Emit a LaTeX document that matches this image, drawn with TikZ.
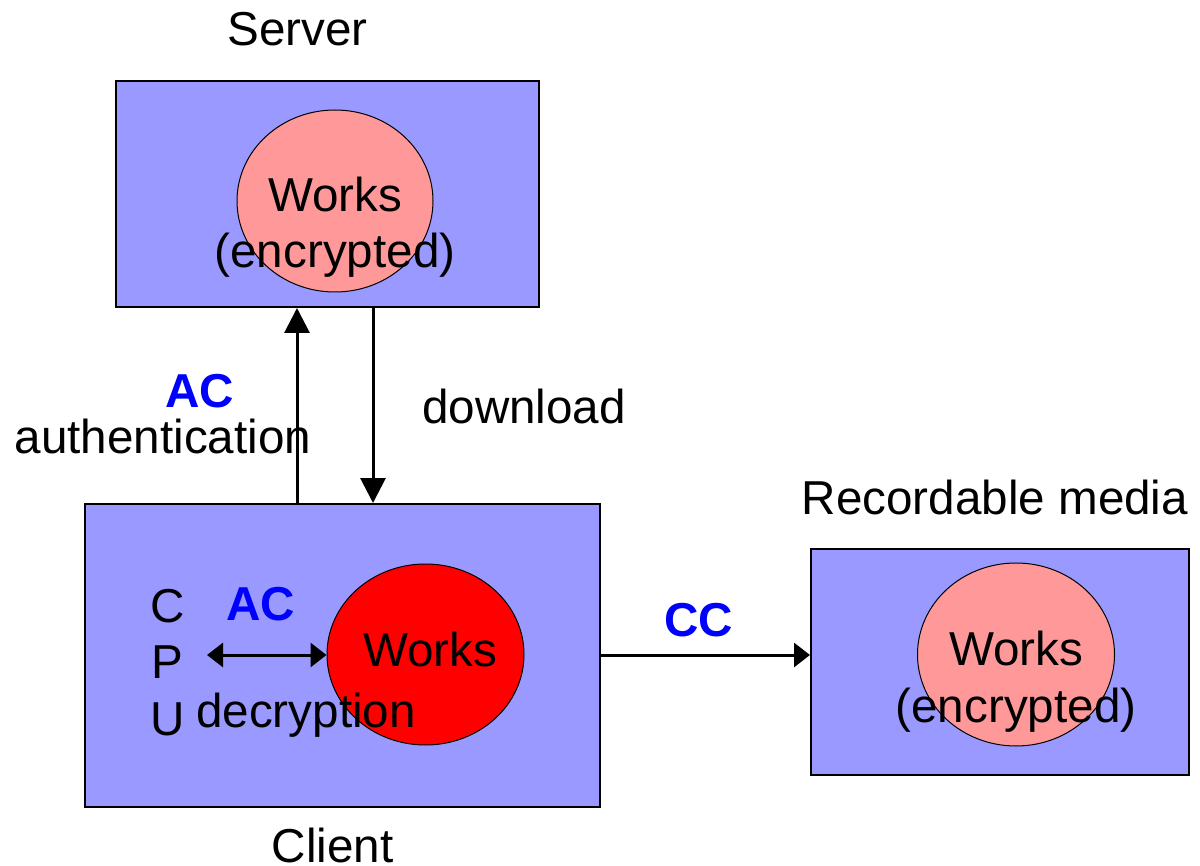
\documentclass[tikz,border=0pt]{standalone}
\usepackage{fontspec}
\setmainfont{Liberation Sans}
\usetikzlibrary{arrows.meta,shapes.geometric}
\definecolor{boxblue}{HTML}{9999FF}
\definecolor{pinkw}{HTML}{FF9999}
\definecolor{redw}{HTML}{FF0000}
\definecolor{labblue}{HTML}{0000FF}
\begin{document}
\begin{tikzpicture}[x=0.5pt,y=-0.5pt,
  every node/.style={font=\fontsize{23.8pt}{28pt}\selectfont},
  panel/.style={draw=black,line width=1pt,fill=boxblue,rectangle,inner sep=0pt},
  works/.style={draw=black,line width=0.5pt,ellipse,inner sep=0pt,fill=pinkw},
  txt/.style={anchor=base,inner sep=0pt,outer sep=0pt},
  lab/.style={txt,text=labblue,font=\fontsize{23.8pt}{28pt}\selectfont\bfseries},
  vtip/.style={line width=1.5pt,-{Triangle[length=12.5pt,width=12.5pt]}},
  htip/.style={line width=1.5pt,-{Triangle[length=8pt,width=12pt]}},
  hdtip/.style={line width=1.5pt,{Triangle[length=8pt,width=12pt]}-{Triangle[length=8pt,width=12pt]}}
]
\useasboundingbox (0,0) rectangle (1200,866);
% panels
\node[panel,minimum width=211.5pt,minimum height=113pt] (server) at (327.5,194) {};
\node[panel,minimum width=257.5pt,minimum height=151.5pt] (client) at (342.5,655.5) {};
\node[panel,minimum width=189pt,minimum height=113pt] (rec) at (1000,662) {};
% ellipses
\node[works,minimum width=98pt,minimum height=91pt] (sw) at (335,201) {};
\node[works,fill=redw,minimum width=98.5pt,minimum height=90.5pt] (cw) at (425.5,654.5) {};
\node[works,minimum width=98.5pt,minimum height=91.5pt] (rw) at (1016,654.5) {};
% titles
\node[txt] (tserver) at (297.5,46) {Server};
\node[txt] (tclient) at (332.5,862) {Client};
\node[txt] (trec) at (995,514) {Recordable media};
% ellipse texts
\node[txt] (sw1) at (335,212) {Works};
\node[txt] (sw2) at (335,268) {(encrypted)};
\node[txt] (cw1) at (430,666) {Works};
\node[txt] (rw1) at (1016,665) {Works};
\node[txt] (rw2) at (1016,722) {(encrypted)};
% CPU
\node[txt] (c) at (167.5,622) {C};
\node[txt] (p) at (167.5,678) {P};
\node[txt] (u) at (167.5,735) {U};
% labels
\node[lab] (ac1) at (200,408) {AC};
\node[txt] (auth) at (163,453) {authentication};
\node[txt] (down) at (524,423) {download};
\node[lab] (ac2) at (260.5,620) {AC};
\node[txt] (decr) at (306,727) {decryption};
\node[lab] (cc) at (699,636) {CC};
% connectors
\coordinate (upx) at (297,0);
\coordinate (dnx) at (373,0);
\coordinate (cpuend) at (207,655);
\coordinate (ccy) at (0,655);
\draw[vtip] (client.north -| upx) -- (server.south -| upx);
\draw[vtip] (server.south -| dnx) -- (client.north -| dnx);
\draw[hdtip] (cpuend) -- (cw.west |- cpuend);
\draw[htip] (client.east |- ccy) -- (rec.west |- ccy);
\end{tikzpicture}
\end{document}
